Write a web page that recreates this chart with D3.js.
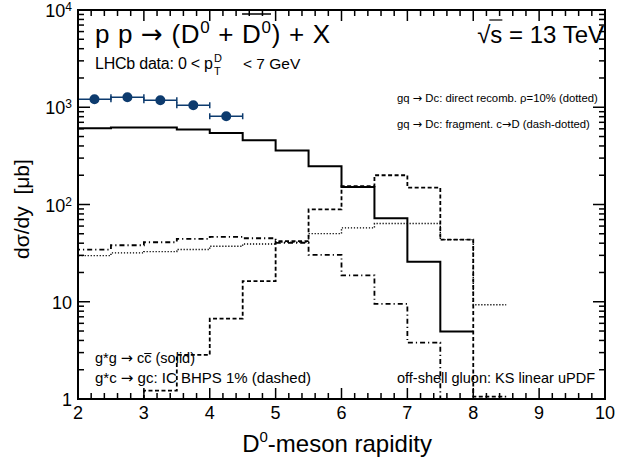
<!DOCTYPE html>
<html>
<head>
<meta charset="UTF-8">
<script src="https://cdn.jsdelivr.net/npm/d3@7"></script>
<style>
  body { margin: 0; background: #fff; }
  svg text { font-family: "Liberation Sans", Arial, Helvetica, sans-serif; fill: #000; }
  .arr { font-family: "DejaVu Sans", sans-serif; }
</style>
</head>
<body>
<svg id="chart" width="617" height="466"></svg>
<script>
// bin edges of the model histograms (rapidity)
const binEdges = [2, 2.5, 3, 3.5, 4, 4.5, 5, 5.5, 6, 6.5, 7, 7.5, 8, 8.5];

// model curves, one value per bin (null = not drawn)
const ggSolid      = [608, 618, 618, 589, 543, 457, 360, 248, 151, 72, 25.8, 4.94, null];
const icDashed     = [null, null, 1.22, 2.84, 6.7, 16.3, 42, 89, 154, 200, 149, 43.5, 1.06];
const recombDotted = [29.8, 31.8, 32.8, 34.4, 37.2, 39.3, 40.9, 50.2, 57.5, 63.7, 63.7, 43.5, 9.3];
const fragDashDot  = [34.4, 38.1, 40.9, 44.3, 46.5, 45, 40.3, 30.3, 18.7, 9.5, 3.8, 0.5, null];

// LHCb data points
const lhcbY    = [2.25, 2.75, 3.25, 3.75, 4.25];
const lhcbVal  = [1209, 1268, 1180, 1049, 808];
const lhcbXerr = [0.25, 0.25, 0.25, 0.25, 0.25];

// axis ticks
const xTicks = [2, 3, 4, 5, 6, 7, 8, 9, 10];
const yTicks = [1, 10, 100, 1000, 10000];
const yTickLabels = [["1", ""], ["10", ""], ["10", "2"], ["10", "3"], ["10", "4"]];

const svg = d3.select("#chart");
const pLeft = 78, pRight = 605, pTop = 10, pBottom = 399;

const x = d3.scaleLinear().domain([2, 10]).range([pLeft, pRight]);
const y = d3.scaleLog().domain([1, 1e4]).range([pBottom, pTop]);
const yc = v => y(Math.max(v, 1));

// histogram as step polyline
function stepPoints(vals) {
  let pts = [];
  vals.forEach((v, i) => {
    if (v == null) return;
    if (pts.length === 0) pts.push([x(binEdges[i]), pBottom]);
    pts.push([x(binEdges[i]), yc(v)]);
    pts.push([x(binEdges[i + 1]), yc(v)]);
  });
  return pts;
}
const line = d3.line();

const series = [
  { vals: recombDotted, dash: "1.2,1.8", w: 1.4 },
  { vals: fragDashDot,  dash: "5,3,1.2,3", w: 1.8 },
  { vals: icDashed,     dash: "4,2.5", w: 1.8 },
  { vals: ggSolid,      dash: null, w: 2 }
];
series.forEach(s => {
  svg.append("path")
    .attr("d", line(stepPoints(s.vals)))
    .attr("fill", "none")
    .attr("stroke", "#000")
    .attr("stroke-width", s.w)
    .attr("stroke-dasharray", s.dash);
});

// LHCb points
const navy = "#0d3b6e";
const pts = svg.append("g");
lhcbY.forEach((r, i) => {
  const cy = y(lhcbVal[i]);
  const x0 = x(r - lhcbXerr[i]), x1 = x(r + lhcbXerr[i]);
  pts.append("line").attr("x1", x0).attr("x2", x1).attr("y1", cy).attr("y2", cy)
    .attr("stroke", navy).attr("stroke-width", 1.5);
  [x0, x1].forEach(xe => pts.append("line").attr("x1", xe).attr("x2", xe)
    .attr("y1", cy - 3).attr("y2", cy + 3).attr("stroke", navy).attr("stroke-width", 1.5));
  pts.append("circle").attr("cx", x(r)).attr("cy", cy).attr("r", 5).attr("fill", navy);
});

// frame + ticks
const ax = svg.append("g").attr("stroke", "#000");
ax.append("rect").attr("x", pLeft).attr("y", pTop).attr("width", pRight - pLeft).attr("height", pBottom - pTop)
  .attr("fill", "none").attr("stroke-width", 2);
const xMinor = d3.range(2, 10.001, 0.2);
xMinor.forEach(v => {
  const major = Math.abs(v - Math.round(v)) < 1e-6;
  const len = major ? 11 : 6;
  ax.append("line").attr("x1", x(v)).attr("x2", x(v)).attr("y1", pBottom).attr("y2", pBottom - len).attr("stroke-width", 1.5);
  ax.append("line").attr("x1", x(v)).attr("x2", x(v)).attr("y1", pTop).attr("y2", pTop + len).attr("stroke-width", 1.5);
});
for (let d = 1; d < 1e4; d *= 10) {
  for (let k = 1; k <= 9; k++) {
    const v = d * k, len = k === 1 ? 12 : 6;
    ax.append("line").attr("x1", pLeft).attr("x2", pLeft + len).attr("y1", y(v)).attr("y2", y(v)).attr("stroke-width", 1.5);
    ax.append("line").attr("x1", pRight).attr("x2", pRight - len).attr("y1", y(v)).attr("y2", y(v)).attr("stroke-width", 1.5);
  }
}

// tick labels
svg.append("g").selectAll("text").data(xTicks).join("text")
  .attr("x", d => x(d)).attr("y", 419).attr("text-anchor", "middle")
  .style("font-size", "18px").text(d => d);
yTicks.forEach((v, i) => {
  const t = svg.append("text").attr("x", 72).attr("y", y(v) + 7).attr("text-anchor", "end").style("font-size", "18px");
  t.append("tspan").text(yTickLabels[i][0]);
  if (yTickLabels[i][1]) t.append("tspan").attr("dy", -6).style("font-size", "12px").text(yTickLabels[i][1]);
});

// axis titles
const xt = svg.append("text").attr("x", 337).attr("y", 452).attr("text-anchor", "middle").style("font-size", "24px");
xt.append("tspan").text("D");
xt.append("tspan").attr("dy", -10).style("font-size", "15px").text("0");
xt.append("tspan").attr("dy", 10).text("-meson rapidity");

svg.append("text").attr("transform", "translate(29,209) rotate(-90)").attr("text-anchor", "middle")
  .style("font-size", "21px").style("white-space", "pre").text("dσ/dy  [μb]");

// text with DejaVu arrows
function richText(sel, str) {
  str.split(/(→)/).forEach(part => {
    if (!part) return;
    const ts = sel.append("tspan").text(part);
    if (part === "→") ts.attr("class", "arr");
  });
  return sel;
}

// title
const title = svg.append("text").attr("x", 95).attr("y", 43).style("font-size", "26px")
  .attr("textLength", 235).attr("lengthAdjust", "spacing");
title.append("tspan").text("p p ");
title.append("tspan").attr("class", "arr").text("→");
title.append("tspan").text(" (D");
title.append("tspan").attr("dy", -10).style("font-size", "17px").text("0");
title.append("tspan").attr("dy", 10).text(" + D");
title.append("tspan").attr("dy", -10).style("font-size", "17px").text("0");
title.append("tspan").attr("dy", 10).text(") + X");
const tn = title.node();
svg.append("line").attr("x1", tn.getStartPositionOfChar(12).x).attr("x2", tn.getEndPositionOfChar(13).x)
  .attr("y1", 14).attr("y2", 14).attr("stroke", "#000").attr("stroke-width", 1.5);

const sq = svg.append("text").attr("x", 604).attr("y", 43).attr("text-anchor", "end").style("font-size", "24px").text("√s = 13 TeV");
const sn = sq.node();
svg.append("line").attr("x1", sn.getEndPositionOfChar(0).x - 1).attr("x2", sn.getEndPositionOfChar(1).x)
  .attr("y1", 20).attr("y2", 20).attr("stroke", "#000").attr("stroke-width", 1.2);

// LHCb cut text
const cut = svg.append("text").attr("x", 95).attr("y", 69).style("font-size", "16px")
  .attr("textLength", 118).attr("lengthAdjust", "spacing").text("LHCb data: 0 < p");
const cw = 118;
svg.append("text").attr("x", 95 + cw + 1).attr("y", 62).style("font-size", "11px").text("D");
svg.append("text").attr("x", 95 + cw + 1).attr("y", 75).style("font-size", "11px").text("T");
svg.append("text").attr("x", 243).attr("y", 69).style("font-size", "15.5px").text("< 7 GeV");

// legend texts
richText(svg.append("text").attr("x", 397).attr("y", 102).style("font-size", "11.3px"),
  "gq → Dc: direct recomb. ρ=10% (dotted)");
richText(svg.append("text").attr("x", 397).attr("y", 128).style("font-size", "11.3px"),
  "gq → Dc: fragment. c→D (dash-dotted)");

const gg = richText(svg.append("text").attr("x", 95).attr("y", 363).style("font-size", "14.5px"), "g*g → cc (solid)");
const gn = gg.node();
svg.append("line").attr("x1", gn.getStartPositionOfChar(7).x).attr("x2", gn.getEndPositionOfChar(7).x)
  .attr("y1", 353.5).attr("y2", 353.5).attr("stroke", "#000").attr("stroke-width", 1);
richText(svg.append("text").attr("x", 95).attr("y", 383).style("font-size", "15px"), "g*c → gc: IC BHPS 1% (dashed)");
svg.append("text").attr("x", 595).attr("y", 383).attr("text-anchor", "end").style("font-size", "14.5px")
  .text("off-shell gluon: KS linear uPDF");
</script>
</body>
</html>
